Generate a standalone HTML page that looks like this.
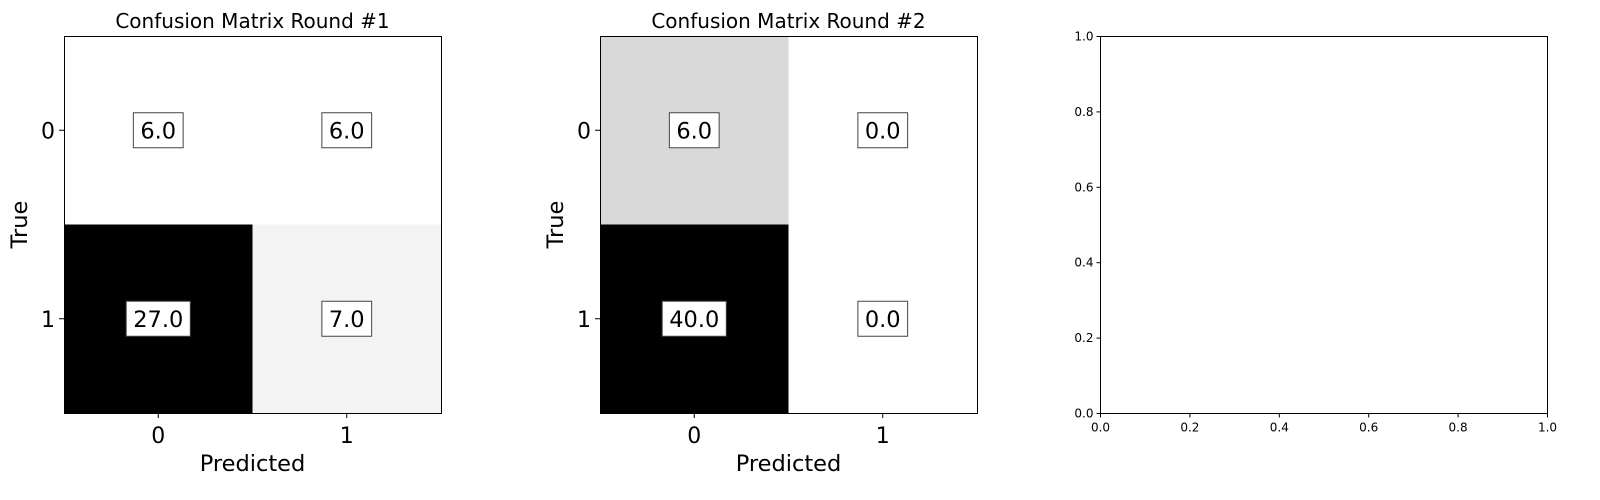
<!DOCTYPE html>
<html><head><meta charset="utf-8"><style>
body{margin:0;background:#fff}
svg text{font-family:"DejaVu Sans","Liberation Sans",sans-serif;fill:#000}
</style></head><body>
<svg id="fig" width="1600" height="495" viewBox="0 0 1600 495"></svg>
<script>
const cm1 = [[6,6],[27,7]];
const cm2 = [[6,0],[40,0]];
const classLabels = ['0','1'];
const titles = ['Confusion Matrix Round #1','Confusion Matrix Round #2'];
const emptyTicks = ['0.0','0.2','0.4','0.6','0.8','1.0'];
const mats=[cm1,cm2];
const figSvg=document.getElementById('fig');
const SVGNS='http://www.w3.org/2000/svg';
function mk(t,a,p){const e=document.createElementNS(SVGNS,t);for(const k in a)e.setAttribute(k,a[k]);(p||figSvg).appendChild(e);return e;}
const panelLefts=[64,600], PLOT_TOP=36, PLOT_SIZE=377;
mats.forEach((m,pi)=>{
  const g=mk('g',{});
  
  
  const L=panelLefts[pi], cs=PLOT_SIZE/classLabels.length;
  let mn=Infinity,mx=-Infinity;m.flat().forEach(v=>{mn=Math.min(mn,v);mx=Math.max(mx,v);});
  const xf=j=>L+j*cs, yf=i=>PLOT_TOP+i*cs;
  m.forEach((row,i)=>row.forEach((v,j)=>{
    const c=Math.round(255*(1-(mx>mn?(v-mn)/(mx-mn):0)));
    const r=mk('rect',{x:xf(j),y:yf(i),width:cs,height:cs,fill:`rgb(${c},${c},${c})`},g);
    
    
  }));
  mk('rect',{x:L+0.5,y:PLOT_TOP+0.5,width:PLOT_SIZE,height:PLOT_SIZE,fill:'none',stroke:'#000','stroke-width':1},g);
  m.forEach((row,i)=>row.forEach((v,j)=>{
    const cx=xf(j)+cs/2, cy=yf(i)+cs/2, s=v.toFixed(1);
    const w=((s.length-1)*0.636+0.318)*22.5+14;
    mk('rect',{x:cx-w/2,y:cy-17.5,width:w,height:35,fill:'#fff',stroke:'#444','stroke-width':1},g);
    const t=mk('text',{x:cx,y:cy+8,'font-size':22.5,'text-anchor':'middle'},g);t.textContent=s;
    
    
  }));
  classLabels.forEach((lb,k)=>{
    const cx=xf(k)+cs/2;
    mk('line',{x1:cx,x2:cx,y1:PLOT_TOP+PLOT_SIZE,y2:PLOT_TOP+PLOT_SIZE+5,stroke:'#000'},g);
    let t=mk('text',{x:cx,y:PLOT_TOP+PLOT_SIZE+30,'font-size':22,'text-anchor':'middle'},g);t.textContent=lb;
    
    
    const cy=yf(k)+cs/2;
    mk('line',{x1:L-5,x2:L,y1:cy,y2:cy,stroke:'#000'},g);
    t=mk('text',{x:L-9,y:cy+8,'font-size':22,'text-anchor':'end'},g);t.textContent=lb;
    
    
  });
  let t=mk('text',{x:L+PLOT_SIZE/2,y:28,'font-size':20,'text-anchor':'middle'},g);t.textContent=titles[pi];
  
  
  t=mk('text',{x:L+PLOT_SIZE/2,y:471,'font-size':22.5,'text-anchor':'middle'},g);t.textContent='Predicted';
  
  
  t=mk('text',{x:0,y:0,'font-size':22.5,'text-anchor':'middle',transform:`translate(${L-37},${PLOT_TOP+PLOT_SIZE/2}) rotate(-90)`},g);t.textContent='True';
  
  
});
const g3=mk('g',{});


const EL=1100.5,ER=1547.5,ET=36.5,EB=413.5;
mk('rect',{x:EL,y:ET,width:ER-EL,height:EB-ET,fill:'none',stroke:'#000'},g3);
emptyTicks.forEach(lb=>{
  const v=parseFloat(lb), px=EL+v*(ER-EL), py=EB-v*(EB-ET);
  mk('line',{x1:px,x2:px,y1:EB,y2:EB+4,stroke:'#000'},g3);
  let t=mk('text',{x:px,y:EB+18,'font-size':12,'text-anchor':'middle'},g3);t.textContent=lb;
  
  
  mk('line',{x1:EL-4,x2:EL,y1:py,y2:py,stroke:'#000'},g3);
  t=mk('text',{x:EL-7,y:py+4,'font-size':12,'text-anchor':'end'},g3);t.textContent=lb;
  
  
});
</script>
</body></html>
